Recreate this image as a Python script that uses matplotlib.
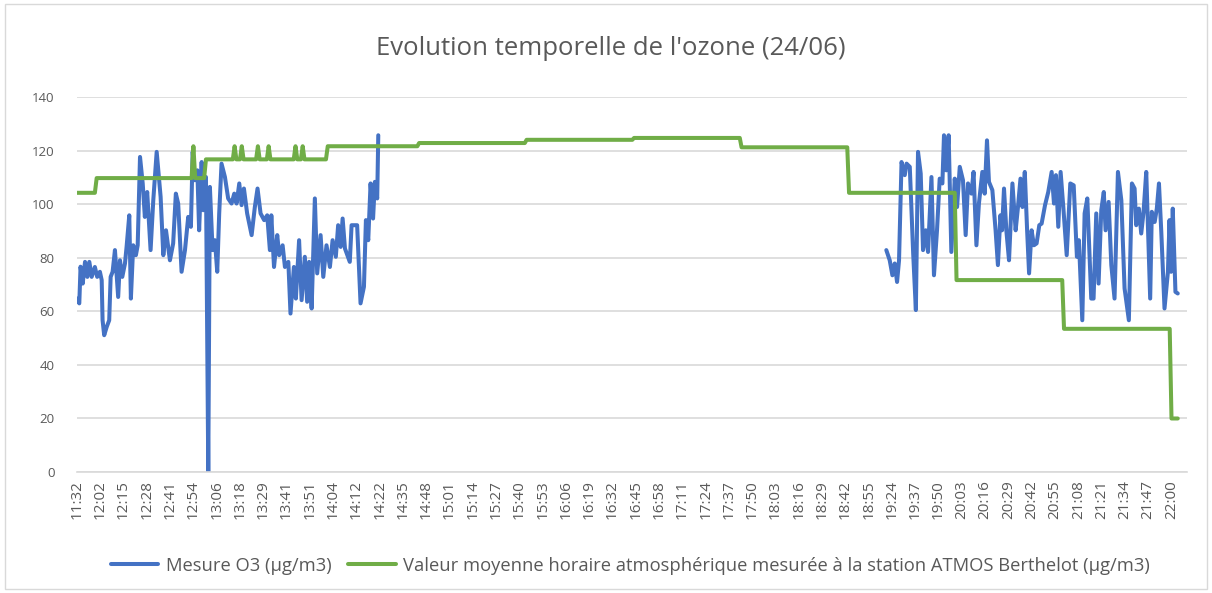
import numpy as np
import matplotlib
matplotlib.use("Agg")
import matplotlib.pyplot as plt
from matplotlib.patches import Rectangle

# === Data (x = sample index on the category axis) ===
TickLabels = ["11:32", "12:02", "12:15", "12:28", "12:41", "12:54", "13:06", "13:18",
              "13:29", "13:41", "13:51", "14:04", "14:12", "14:22", "14:35", "14:48",
              "15:01", "15:14", "15:27", "15:40", "15:53", "16:06", "16:19", "16:32",
              "16:45", "16:58", "17:11", "17:24", "17:37", "17:50", "18:03", "18:16",
              "18:29", "18:42", "18:55", "19:24", "19:37", "19:50", "20:03", "20:16",
              "20:29", "20:42", "20:55", "21:08", "21:21", "21:34", "21:47", "22:00"]
TickStep = 13
NSamples = 620

# O3 measurements, first session
O3_X1 = [0, 1.3, 2, 3.2, 4.5, 5.8, 6.9, 8.2, 10, 11.3, 12.8, 13.8, 14.3, 15.2, 16.6, 18,
         18.8, 19.9, 21.2, 23, 24, 25.3, 26.8, 27.7, 29.2, 30.1, 31.4, 32.9, 33.9, 35.2,
         36.7, 37.9, 39.2, 41.1, 42.6, 44.5, 46.7, 48.2, 49.7, 51.9, 53.7, 55.2, 56.5,
         58.4, 60.3, 62.1, 63.6, 64.6, 65.8, 67.2, 68.2, 69.6, 70.5, 72, 73.3, 74.2, 75.7,
         77, 78.3, 79.4, 80.7, 82.6, 84.4, 86.3, 87.8, 89.1, 90.6, 91.9, 93.2, 95, 97.5,
         99.3, 100.8, 102.5, 104.5, 106.2, 107.7, 108.5, 110, 111.8, 112.9, 114.8, 116.1,
         118, 119.2, 121.1, 122.2, 124, 125.4, 127.2, 128.5, 129.6, 131, 132.8, 134.1, 136,
         137.5, 139.3, 141.2, 142.7, 144.5, 145.8, 147.2, 148.3, 149.6, 152.3, 153.3, 156.4,
         158.3, 160.2, 161.3, 162.6, 163.9, 165.3, 166.3, 167.6, 168.2]
O3_Y1 = [64.8, 63, 76.7, 70.4, 78.5, 72.9, 78.5, 72.9, 76.6, 72.9, 74.8, 71.7, 56.7, 51.1,
         54.2, 56.7, 72.9, 74.8, 82.9, 65.4, 79.1, 72.9, 77.9, 84.1, 95.9, 64.8, 84.7, 81,
         84.7, 117.7, 107.8, 95.3, 104.6, 82.9, 101.5, 119.6, 102.8, 81, 90.3, 79.1, 85.4,
         104, 100.3, 74.8, 82.9, 95.3, 91.6, 119.6, 109, 112.7, 90.3, 115.8, 97.8, 110.2, 0,
         106.5, 82.9, 86.6, 74.8, 96.6, 115.2, 110.2, 102.2, 100.3, 104, 100.3, 107.8, 99.7,
         105.9, 96.6, 88.5, 99, 105.9, 96.6, 94.1, 95.9, 82.9, 95.9, 76.6, 88.5, 81, 84.7,
         76.6, 78.5, 59.2, 76.6, 64.8, 86.6, 64.2, 80.4, 63.6, 78.5, 61.1, 102.2, 74.2, 88.5,
         72.9, 84.7, 76.6, 86.6, 80.4, 92.2, 84.1, 94.7, 83.5, 78.5, 92.2, 92.2, 63, 69.2,
         94.1, 86.6, 107.8, 94.7, 108.4, 102.2, 125.8]

# O3 measurements, second session
O3_X2 = [451.8, 453.7, 455.2, 456.5, 457.8, 458.9, 460.3, 462.1, 463.1, 464.9, 466.8, 468.3,
         469.5, 471, 472.3, 473.8, 475.1, 477, 478.4, 480.1, 481.6, 483.1, 484, 485.3, 486.6,
         488.1, 490, 491.3, 492.8, 494.6, 496.1, 497.4, 499.3, 500.5, 502.1, 503.5, 505.4,
         506.7, 508, 509.1, 511, 512.8, 514.1, 515.5, 516.4, 517.5, 518.8, 520.3, 522.2, 524,
         525.3, 526.7, 527.8, 529.1, 530.4, 531.5, 532.9, 534.2, 535.7, 537.2, 538.5, 540.4,
         542.2, 544.1, 545.4, 546.5, 547.8, 549.1, 550.6, 552.5, 554.5, 556.4, 558.2, 559.3,
         561.2, 562.5, 564, 566.2, 567.5, 569, 570.3, 571.8, 573.2, 574.2, 575.9, 577.4, 579.2,
         581.1, 583, 584.8, 587.2, 588.9, 590.4, 591.3, 592.8, 594.1, 595.4, 596.9, 599.1, 600,
         601.6, 602.8, 604, 605.3, 607.1, 609, 609.9, 610.8, 611.7, 613.2, 614.5]
O3_Y2 = [82.9, 79.1, 73.5, 77.9, 71, 79.1, 115.8, 110.9, 115.2, 114, 81.6, 60.5, 119.6, 111.5,
         82.9, 90.3, 82.2, 110.2, 73.5, 90.3, 109.6, 107.8, 125.8, 112.7, 125.8, 82.2, 109.6,
         99, 114, 109, 88.5, 107.8, 104, 112.1, 84.7, 100.3, 112.1, 104, 123.9, 108.4, 105.3,
         90.3, 77.3, 95.9, 90.3, 105.9, 90.3, 79.1, 107.8, 90.3, 99, 109.6, 99, 112.1, 90.3,
         74.2, 90.3, 84.7, 85.4, 92.2, 92.8, 99.7, 104.6, 112.1, 100.3, 110.9, 91.6, 112.1, 99,
         81, 107.8, 107.1, 80.4, 86.6, 56.7, 96.6, 102.2, 64.8, 64.8, 96.6, 70.4, 97.8, 104.6,
         90.3, 100.9, 77.3, 64.8, 112.1, 101.5, 68.6, 56.7, 107.8, 105.9, 92.2, 98.4, 89.1,
         97.2, 112.1, 64.8, 97.2, 93.4, 98.4, 107.8, 89.7, 61.1, 74.8, 94.1, 74.8, 98.4, 67.3,
         66.7]

# ATMOS Berthelot hourly mean (vertices of the stepped line)
Station_X = [0, 10, 11, 64, 65, 66, 71, 72, 87, 88, 89, 91, 92, 93, 100, 101, 102, 106, 107,
             108, 121, 122, 123, 125, 126, 127, 139, 140, 190, 191, 250, 251, 310, 311, 370,
             371, 430, 431, 490, 491, 550, 551, 610, 611, 614.5]
Station_Y = [104.3, 104.3, 109.8, 109.8, 121.7, 109.8, 109.8, 116.8, 116.8, 121.7, 116.8,
             116.8, 121.7, 116.8, 116.8, 121.7, 116.8, 116.8, 121.7, 116.8, 116.8, 121.7,
             116.8, 116.8, 121.7, 116.8, 116.8, 121.7, 121.7, 122.9, 122.9, 124.1, 124.1,
             124.8, 124.8, 121.3, 121.3, 104.3, 104.3, 71.7, 71.7, 53.5, 53.5, 20.0, 20.0]

Blue = "#4472C4"
Green = "#70AD47"
TextGray = "#595959"
GridGray = "#D9D9D9"

plt.rcParams['font.family'] = ['Open Sans', 'DejaVu Sans']

Fig = plt.figure(figsize=(12.12, 5.93), dpi=100)
Fig.patches.append(Rectangle((0.004, 0.006), 0.992, 0.988, transform=Fig.transFigure,
                             fill=False, edgecolor=GridGray, linewidth=1))
Ax = Fig.add_axes([0.0635, 0.204, 0.9155, 0.632])

Ax.plot(O3_X1, O3_Y1, color=Blue, lw=2.9, solid_joinstyle='round', solid_capstyle='round',
        label="Mesure O3 (µg/m3)")
Ax.plot(O3_X2, O3_Y2, color=Blue, lw=2.9, solid_joinstyle='round', solid_capstyle='round')
Ax.plot(Station_X, Station_Y, color=Green, lw=2.9, solid_joinstyle='round',
        solid_capstyle='round',
        label="Valeur moyenne horaire atmosphérique mesurée à la station ATMOS Berthelot (µg/m3)")

Ax.set_xlim(0, NSamples - 0.6)
Ax.set_ylim(0, 140)
Ax.set_yticks(np.arange(0, 141, 20))
Ax.set_xticks(np.arange(len(TickLabels)) * TickStep)
Ax.set_xticklabels(TickLabels, rotation=90)
Ax.tick_params(axis='both', length=0, labelcolor=TextGray)
Ax.tick_params(axis='x', pad=6, labelsize=11)
Ax.tick_params(axis='y', pad=16, labelsize=9.5)
Ax.grid(True, axis='y', color=GridGray, lw=1.2)
Ax.set_axisbelow(True)
for Side in ['top', 'right', 'left']:
    Ax.spines[Side].set_visible(False)
Ax.spines['bottom'].set_color(GridGray)
Ax.spines['bottom'].set_linewidth(1.2)

Fig.text(0.504, 0.919, "Evolution temporelle de l'ozone (24/06)", ha='center', va='center',
         fontsize=18.5, color=TextGray)
Fig.legend(loc='lower center', bbox_to_anchor=(0.52, 0.003), ncol=2, frameon=False,
           fontsize=13.2, handlelength=2.6, handletextpad=0.4, columnspacing=0.9,
           labelcolor=TextGray)

Fig.savefig("out.png", dpi=100)
